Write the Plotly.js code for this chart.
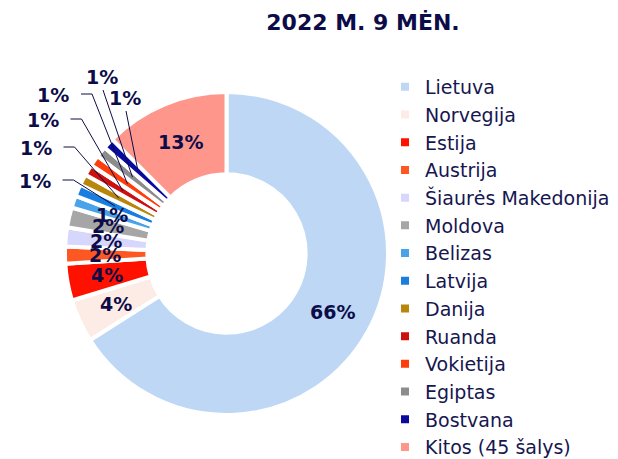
<!DOCTYPE html>
<html>
<head>
<meta charset="utf-8">
<script src="https://cdn.plot.ly/plotly-3.0.1.min.js"></script>
<style>
  html, body { margin: 0; padding: 0; background: #ffffff; }
  #chart { width: 618px; height: 459px; }
</style>
</head>
<body>
<div id="chart"></div>
<script>
// ---- data ----
const countries = ['Lietuva', 'Norvegija', 'Estija', 'Austrija', 'Šiaurės Makedonija', 'Moldova',
  'Belizas', 'Latvija', 'Danija', 'Ruanda', 'Vokietija', 'Egiptas', 'Bostvana', 'Kitos (45 šalys)'];
const shares = [66.0, 4.3, 3.7, 1.7, 1.9, 2.0, 1.2, 1.2, 1.1, 1.1, 1.1, 1.1, 1.1, 12.5];
const sliceColors = ['#bdd7f5', '#fdebe5', '#ff1100', '#ff5722', '#d7d7fd', '#a6a6a6',
  '#4aa3e8', '#1a7ee0', '#b8860b', '#cc1010', '#ff3c0c', '#8c8c8c', '#0a0aa0', '#ff968c'];
// slices whose label sits outside with a leader line, and where that label is placed (px)
const outsideLabel = [false, false, false, false, false, false, false, true, true, true, true, true, true, false];
const outsideLabelPos = {7: [34.5, 181], 8: [35.5, 148], 9: [42.5, 120], 10: [53, 95], 11: [102, 77], 12: [125, 98]};
const elbowLabels = [7, 8, 9, 10];

// ---- layout geometry ----
const W = 618, H = 459;
const CX = 226.5, CY = 253.5, R = 161.5;
const TXT = '#0c0c48';

const total = shares.reduce((a, b) => a + b, 0);
const px2x = p => p / W;
const py2y = p => 1 - p / H;

const annotations = [];
const shapes = [];
let cum = 0;
shares.forEach((v, i) => {
  const mid = (cum + v / 2) / total * 2 * Math.PI; // clockwise from 12 o'clock
  cum += v;
  const r = 0.75 * R;
  const sx = CX + r * Math.sin(mid);
  const sy = CY - r * Math.cos(mid);
  const txt = Math.round(v / total * 100) + '%';
  const font = {family: 'DejaVu Sans', size: 19, color: TXT, weight: 'bold'};
  if (!outsideLabel[i]) {
    annotations.push({x: px2x(sx), y: py2y(sy), xref: 'paper', yref: 'paper', text: txt,
      showarrow: false, xanchor: 'center', yanchor: 'middle', font: font});
  } else {
    const [lx, ly] = outsideLabelPos[i];
    annotations.push({x: px2x(lx), y: py2y(ly), xref: 'paper', yref: 'paper', text: txt,
      showarrow: false, xanchor: 'center', yanchor: 'middle', font: font});
    let path;
    if (elbowLabels.includes(i)) {
      const x0 = lx + 28, y0 = ly - 1, x1 = x0 + 11;
      path = `M${px2x(x0)},${py2y(y0)} L${px2x(x1)},${py2y(y0)} L${px2x(sx)},${py2y(sy)}`;
    } else {
      const x0 = lx + 1, y0 = ly + 13;
      path = `M${px2x(x0)},${py2y(y0)} L${px2x(sx)},${py2y(sy)}`;
    }
    shapes.push({type: 'path', xref: 'paper', yref: 'paper', path: path,
      line: {color: TXT, width: 1}});
  }
});

const trace = {
  type: 'pie',
  labels: countries,
  values: shares,
  sort: false,
  direction: 'clockwise',
  rotation: 0,
  hole: 0.49,
  textinfo: 'none',
  textposition: 'none',
  marker: {colors: sliceColors, line: {color: '#ffffff', width: 4}},
  domain: {x: [px2x(CX - R), px2x(CX + R)], y: [py2y(CY + R), py2y(CY - R)]},
  hoverinfo: 'label+percent'
};

const layout = {
  width: W, height: H,
  margin: {l: 0, r: 0, t: 0, b: 0, autoexpand: false},
  paper_bgcolor: '#ffffff',
  showlegend: true,
  title: {text: '2022 M. 9 MĖN.', x: 363 / W, xanchor: 'center', y: 1 - 22 / H, yanchor: 'middle',
    xref: 'paper', yref: 'container',
    font: {family: 'DejaVu Sans', size: 22, color: TXT, weight: 'bold'}},
  legend: {x: 385 / W, xanchor: 'left', y: 1 - 68 / H, yanchor: 'top',
    font: {family: 'DejaVu Sans', size: 19, color: '#161650'},
    bgcolor: 'rgba(0,0,0,0)', borderwidth: 0, traceorder: 'normal'},
  annotations: annotations,
  shapes: shapes
};

Plotly.newPlot('chart', [trace], layout, {displayModeBar: false, staticPlot: true});
</script>
</body>
</html>
